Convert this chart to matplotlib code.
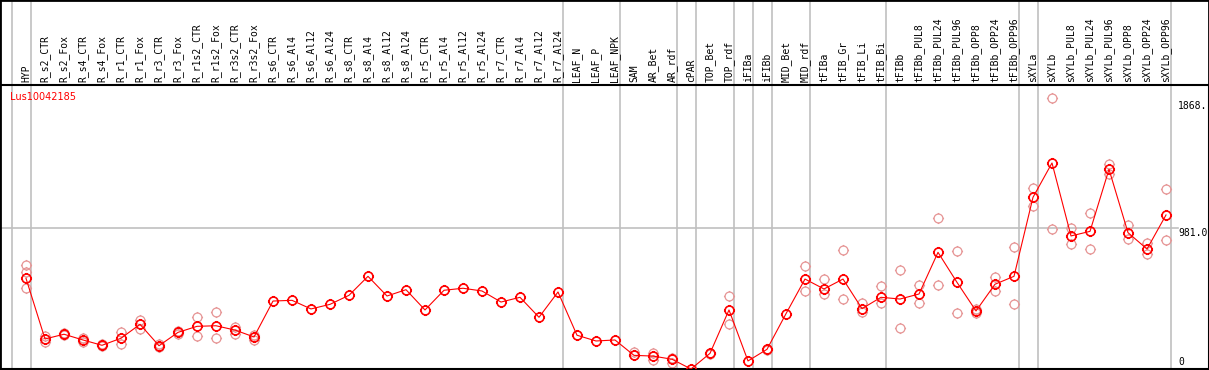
import matplotlib
matplotlib.use("Agg")
import matplotlib.pyplot as plt
from matplotlib.path import Path
from matplotlib.patches import Rectangle

# sample names along the x axis
samples = ["HYP", "R_s2_CTR", "R_s2_Fox", "R_s4_CTR", "R_s4_Fox", "R_r1_CTR", "R_r1_Fox",
           "R_r3_CTR", "R_r3_Fox", "R_r1s2_CTR", "R_r1s2_Fox", "R_r3s2_CTR", "R_r3s2_Fox",
           "R_s6_CTR", "R_s6_Al4", "R_s6_Al12", "R_s6_Al24", "R_s8_CTR", "R_s8_Al4",
           "R_s8_Al12", "R_s8_Al24", "R_r5_CTR", "R_r5_Al4", "R_r5_Al12", "R_r5_Al24",
           "R_r7_CTR", "R_r7_Al4", "R_r7_Al12", "R_r7_Al24", "LEAF_N", "LEAF_P", "LEAF_NPK",
           "SAM", "AR_Bet", "AR_rdf", "cPAR", "TOP_Bet", "TOP_rdf", "iFIBa", "iFIBb",
           "MID_Bet", "MID_rdf", "tFIBa", "tFIB_Gr", "tFIB_Li", "tFIB_Bi", "tFIBb",
           "tFIBb_PUL8", "tFIBb_PUL24", "tFIBb_PUL96", "tFIBb_OPP8", "tFIBb_OPP24",
           "tFIBb_OPP96", "sXYLa", "sXYLb", "sXYLb_PUL8", "sXYLb_PUL24", "sXYLb_PUL96",
           "sXYLb_OPP8", "sXYLb_OPP24", "sXYLb_OPP96"]

# mean expression per sample
means = [631, 209, 242, 202, 165, 214, 311, 162, 255, 297, 301, 271, 223,
         473, 478, 418, 450, 513, 645, 508, 552, 411, 548, 562, 543, 466, 499, 360, 536,
         235, 195, 202, 95, 90, 68, 0, 109, 411, 56, 137, 385, 626,
         557, 626, 420, 499, 487, 522, 812, 603, 404, 590, 645,
         1195, 1434, 926, 958, 1390, 949, 835, 1072]

# individual replicates per sample
reps = [[724, 673, 566], [230, 188], [251, 237], [216, 188], [174, 157], [258, 176],
        [341, 276], [171, 153], [264, 247], [360, 232], [395, 214], [294, 244], [239, 202],
        [], [], [], [], [], [], [], [], [], [], [], [], [], [], [], [],
        [], [], [], [120, 94], [109, 63], [79, 40], [], [114, 104], [508, 311], [],
        [141, 133], [], [717, 543],
        [623, 519], [828, 487], [461, 395], [578, 457], [689, 285], [585, 457],
        [1049, 585], [819, 388], [418, 390], [640, 541], [849, 450],
        [1258, 1137], [1884, 972], [983, 870], [1084, 835], [1425, 1355],
        [1002, 903], [875, 798], [1251, 896]]

# group separators (index of first sample in each group)
group_starts = [0, 1, 29, 32, 35, 36, 38, 39, 40, 42, 46, 53, 54, 61]

ref_value = 981.0
top_value = 1868.0

# circle marker with small ticks
ticks = [Path([(0, 1), (0, 1.25)], [Path.MOVETO, Path.LINETO]),
         Path([(0, -1), (0, -1.25)], [Path.MOVETO, Path.LINETO]),
         Path([(1, 0), (1.25, 0)], [Path.MOVETO, Path.LINETO]),
         Path([(-1, 0), (-1.25, 0)], [Path.MOVETO, Path.LINETO])]
marker = Path.make_compound_path(Path.unit_circle(), *ticks)

fig = plt.figure(figsize=(12.09, 3.70), dpi=100)
ax = fig.add_axes([0, 1 / 370, 1, 284 / 370])

x = list(range(len(samples)))
ax.set_xlim(-26 / 19, (1209 - 26) / 19)
ax.set_ylim(0, 284 * 6.96)

# gray guides
for g in group_starts:
    ax.axvline(g - 0.75, ymin=0, ymax=369 / 284, color="#c0c0c0", lw=1.2, clip_on=False, zorder=0)
ax.axhline(ref_value, xmin=0, xmax=1178 / 1209, color="#c0c0c0", lw=1.2, zorder=0)

# replicates
for i, r in enumerate(reps):
    if r:
        ax.plot([i] * len(r), r, linestyle="none", marker=marker, markersize=8,
                markerfacecolor="none", markeredgecolor="#e69595", markeredgewidth=0.9, zorder=2)

# means
ax.plot(x, means, color="red", lw=0.8, zorder=3)
ax.plot(x, means, linestyle="none", marker=marker, markersize=8, markerfacecolor="none",
        markeredgecolor="red", markeredgewidth=1.2, zorder=4)

for s in ax.spines.values():
    s.set_linewidth(1.5)
    s.set_color("black")
ax.set_xticks([])
ax.set_yticks([])

# sample labels
for i, name in enumerate(samples):
    ax.text(i, 1.0105, name, rotation=90, ha="center", va="bottom", fontsize=7,
            family="DejaVu Sans Mono", transform=ax.get_xaxis_transform(), clip_on=False)

ax.text(10 / 1209, 272 / 284, "Lus10042185", color="red", fontsize=7, ha="left", va="center",
        transform=ax.transAxes)

# value labels on the right
for v, lab in [(top_value, "1868."), (ref_value, "981.0")]:
    ax.text(1178 / 1209, v, lab, fontsize=7, family="DejaVu Sans Mono", ha="left", va="top",
            transform=ax.get_yaxis_transform(), clip_on=False)
ax.text(1178 / 1209, 7 / 284, "0", fontsize=7, family="DejaVu Sans Mono", ha="left",
        va="center", transform=ax.transAxes)

fig.patches.append(Rectangle((0, 0), 1, 1, transform=fig.transFigure, fill=False,
                             edgecolor="black", linewidth=2))

fig.savefig("out.png", dpi=100)
